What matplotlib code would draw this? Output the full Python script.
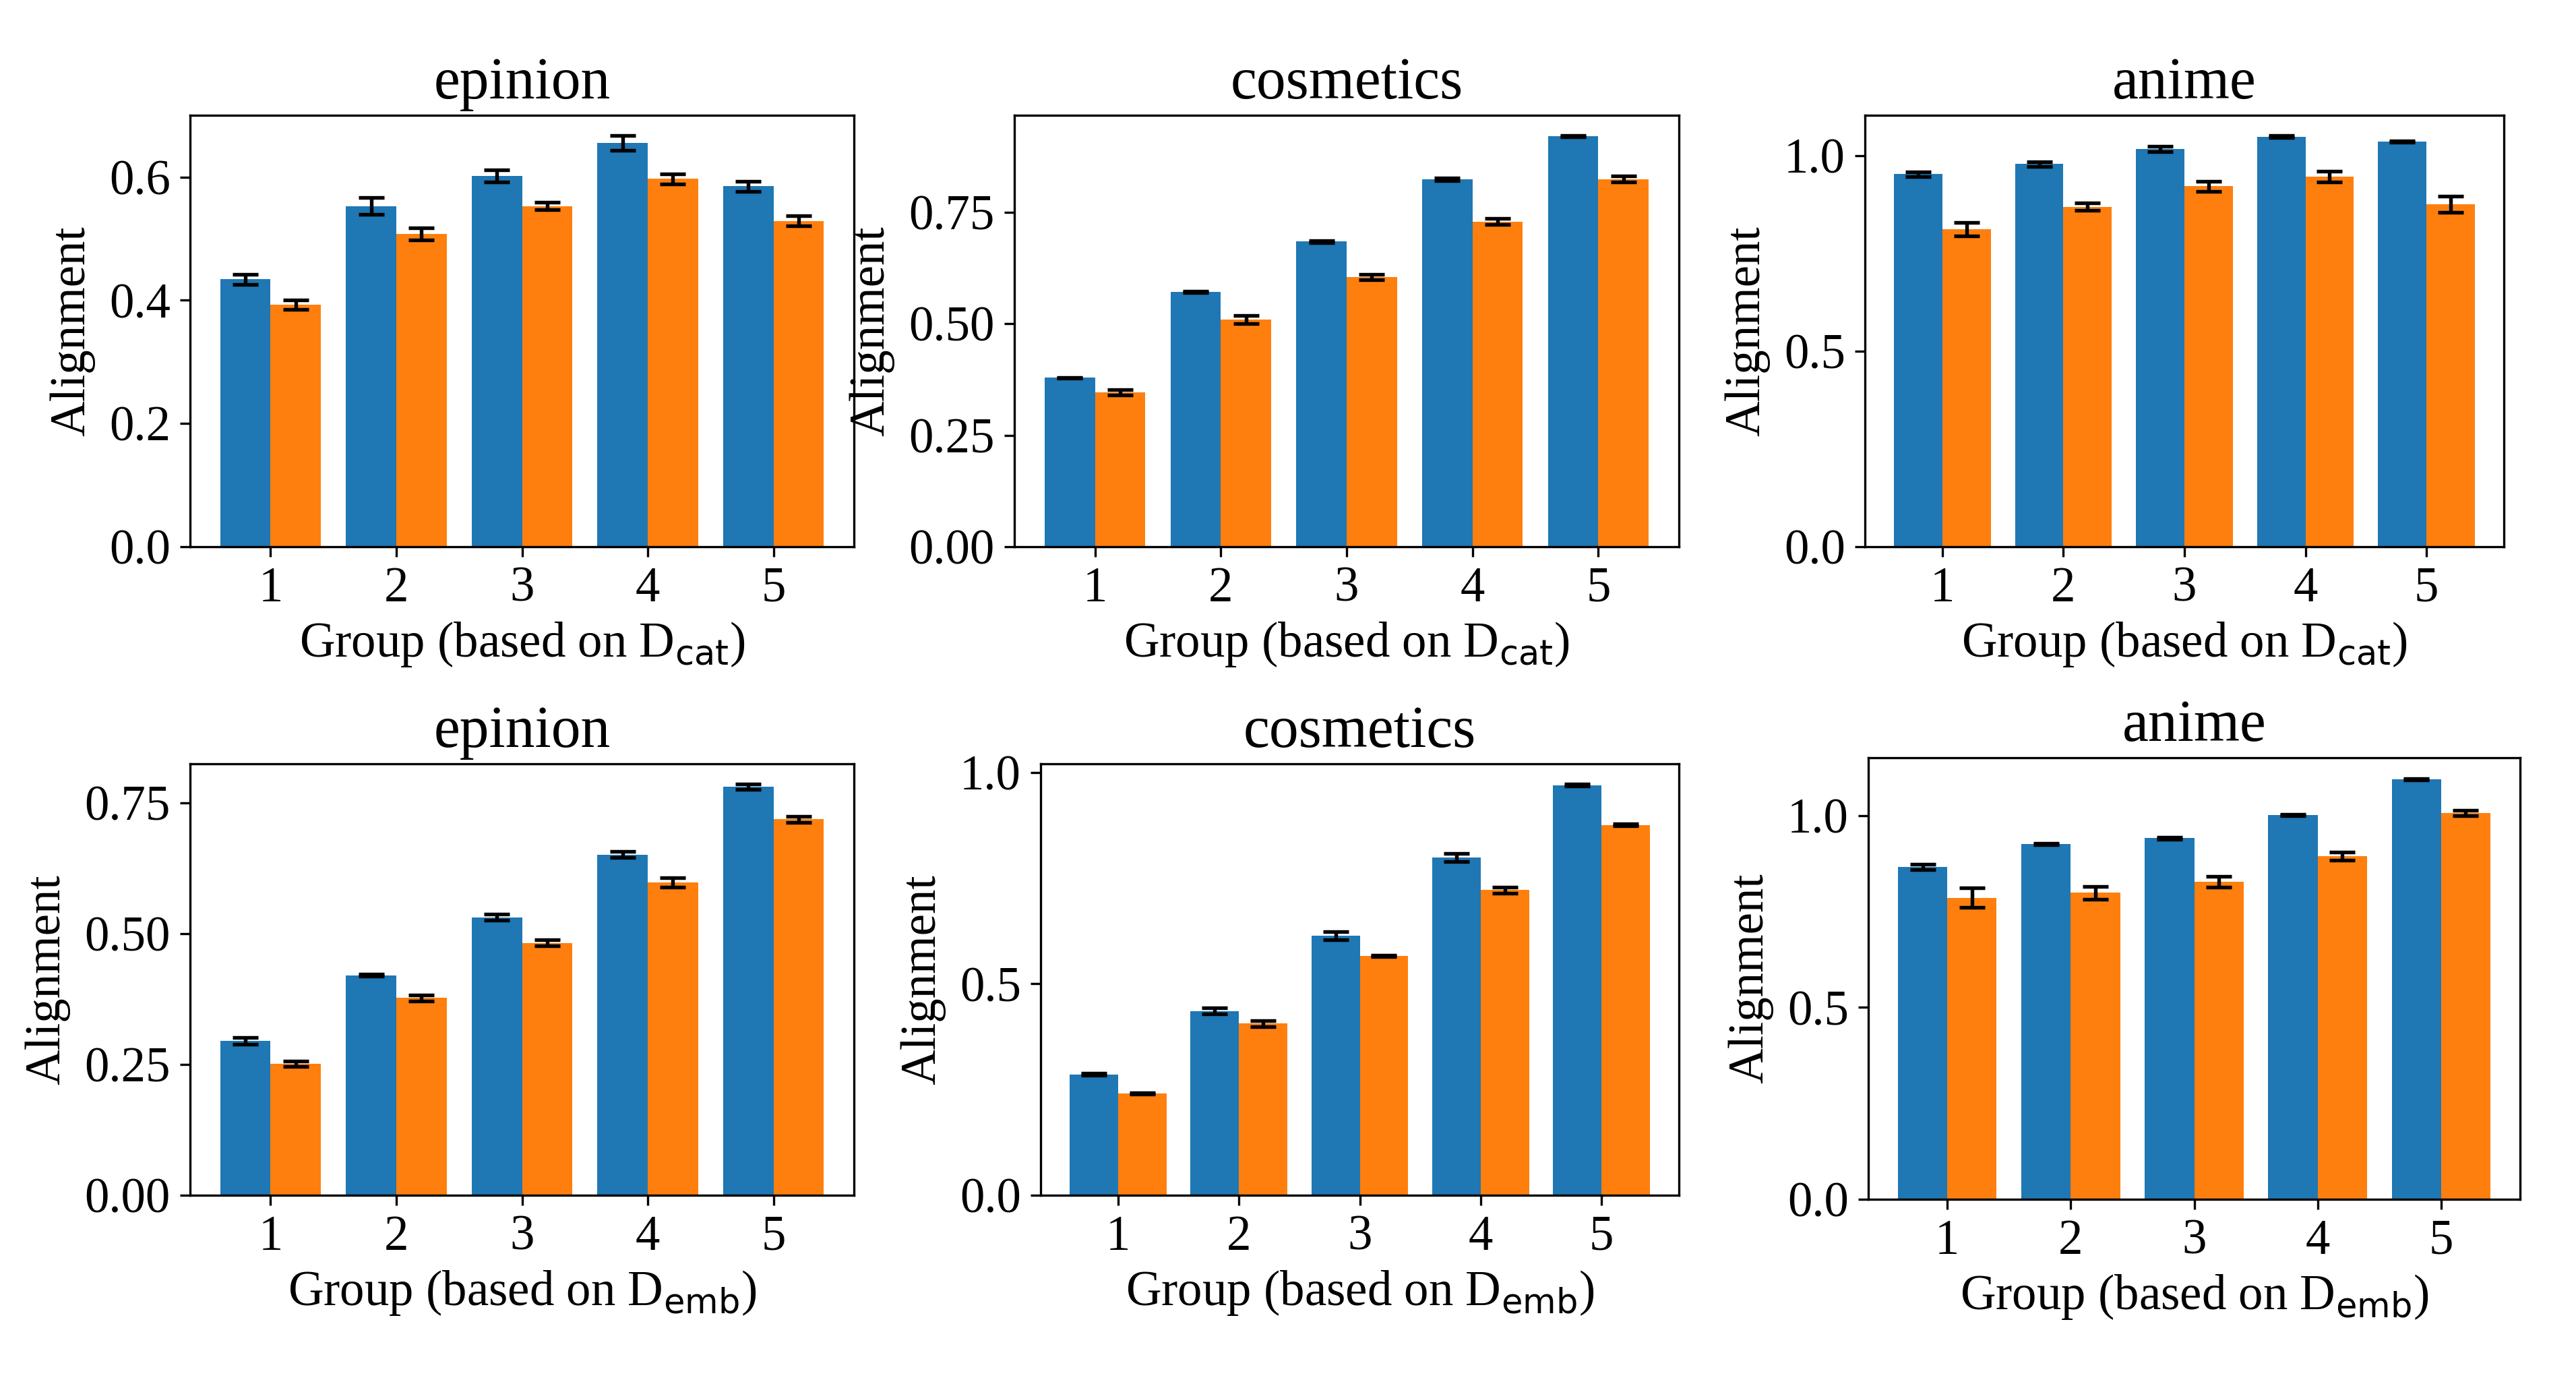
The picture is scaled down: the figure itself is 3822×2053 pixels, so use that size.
import numpy as np
import matplotlib
matplotlib.use("Agg")
import matplotlib.pyplot as plt

plt.rcParams['font.family'] = 'serif'
plt.rcParams['font.serif'] = ['Liberation Serif', 'DejaVu Serif']
plt.rcParams['mathtext.fontset'] = 'dejavusans'

groups = [1, 2, 3, 4, 5]

# Top row: groups based on D_cat
epinion_cat_a = [0.434, 0.553, 0.602, 0.655, 0.585]
epinion_cat_a_err = [0.008, 0.014, 0.010, 0.012, 0.008]
epinion_cat_b = [0.393, 0.508, 0.553, 0.597, 0.529]
epinion_cat_b_err = [0.0076, 0.010, 0.006, 0.008, 0.008]

cosmetics_cat_a = [0.379, 0.571, 0.684, 0.823, 0.920]
cosmetics_cat_a_err = [0.001, 0.001, 0.002, 0.003, 0.001]
cosmetics_cat_b = [0.346, 0.509, 0.604, 0.729, 0.824]
cosmetics_cat_b_err = [0.006, 0.009, 0.006, 0.007, 0.007]

anime_cat_a = [0.952, 0.978, 1.017, 1.048, 1.035]
anime_cat_a_err = [0.006, 0.006, 0.007, 0.002, 0.002]
anime_cat_b = [0.811, 0.869, 0.921, 0.946, 0.875]
anime_cat_b_err = [0.017, 0.010, 0.013, 0.014, 0.020]

# Bottom row: groups based on D_emb
epinion_emb_a = [0.295, 0.420, 0.531, 0.651, 0.780]
epinion_emb_a_err = [0.006, 0.002, 0.006, 0.006, 0.005]
epinion_emb_b = [0.251, 0.377, 0.482, 0.598, 0.718]
epinion_emb_b_err = [0.005, 0.006, 0.006, 0.009, 0.006]

cosmetics_emb_a = [0.286, 0.436, 0.614, 0.799, 0.970]
cosmetics_emb_a_err = [0.002, 0.007, 0.010, 0.010, 0.002]
cosmetics_emb_b = [0.241, 0.406, 0.566, 0.722, 0.876]
cosmetics_emb_b_err = [0.002, 0.007, 0.002, 0.007, 0.002]

anime_emb_a = [0.867, 0.926, 0.941, 1.001, 1.094]
anime_emb_a_err = [0.007, 0.001, 0.003, 0.002, 0.002]
anime_emb_b = [0.786, 0.799, 0.827, 0.894, 1.007]
anime_emb_b_err = [0.026, 0.017, 0.014, 0.011, 0.007]

titles = ['epinion', 'cosmetics', 'anime']
xlabels = ['Group (based on D$_{\\rm cat}$)', 'Group (based on D$_{\\rm emb}$)']
ylabel = 'Alignment'

panels = [
    (epinion_cat_a, epinion_cat_a_err, epinion_cat_b, epinion_cat_b_err, 0.2),
    (cosmetics_cat_a, cosmetics_cat_a_err, cosmetics_cat_b, cosmetics_cat_b_err, 0.25),
    (anime_cat_a, anime_cat_a_err, anime_cat_b, anime_cat_b_err, 0.5),
    (epinion_emb_a, epinion_emb_a_err, epinion_emb_b, epinion_emb_b_err, 0.25),
    (cosmetics_emb_a, cosmetics_emb_a_err, cosmetics_emb_b, cosmetics_emb_b_err, 0.5),
    (anime_emb_a, anime_emb_a_err, anime_emb_b, anime_emb_b_err, 0.5),
]

W, H = 3822, 2053
fig = plt.figure(figsize=(W / 300, H / 300), dpi=300)

# axes boxes in pixels: left, right, top, bottom
boxes = [
    (282, 1267, 171, 811),
    (1505, 2491, 171, 811),
    (2767, 3715, 171, 811),
    (282, 1267, 1133, 1773),
    (1544, 2491, 1133, 1773),
    (2772, 3739, 1124, 1779),
]

x = np.array(groups)
w = 0.4
for i, (pan, box) in enumerate(zip(panels, boxes)):
    a, ae, b, be, step = pan
    l, r, t, btm = box
    ax = fig.add_axes([l / W, 1 - btm / H, (r - l) / W, (btm - t) / H])
    ekw = dict(elinewidth=1.3, capthick=1.3)
    ax.bar(x - w / 2, a, w, yerr=ae, color='#1f77b4', capsize=4.5, error_kw=ekw)
    ax.bar(x + w / 2, b, w, yerr=be, color='#ff7f0e', capsize=4.5, error_kw=ekw)
    ax.set_xticks(groups)
    ax.yaxis.set_major_locator(matplotlib.ticker.MultipleLocator(step))
    ax.tick_params(labelsize=17.5)
    ax.set_title(titles[i % 3], fontsize=21)
    ax.set_xlabel(xlabels[i // 3], fontsize=17.5, labelpad=3)
    ax.set_ylabel(ylabel, fontsize=17.5, labelpad=5)

fig.savefig('out.png', dpi=300)
